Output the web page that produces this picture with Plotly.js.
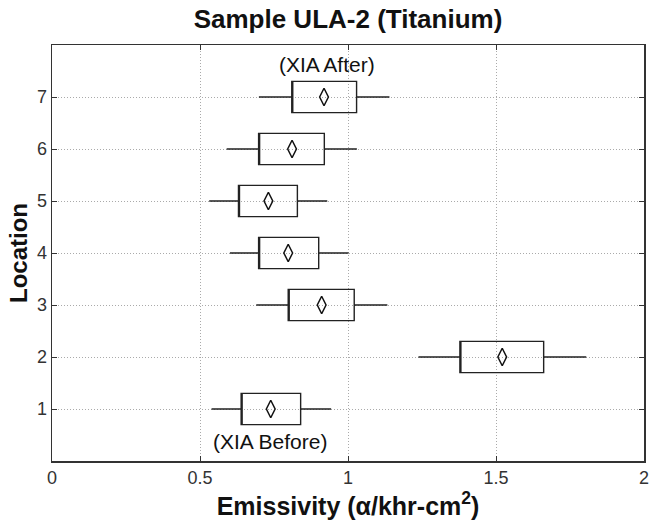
<!DOCTYPE html>
<html>
<head>
<meta charset="utf-8">
<script src="https://cdn.plot.ly/plotly-3.0.1.min.js"></script>
<style>html,body{margin:0;padding:0;background:#fff;}#chart{width:649px;height:524px;}</style>
</head>
<body>
<div id="chart"></div>
<script>
// Data
const locations = [1, 2, 3, 4, 5, 6, 7];
const lowerWhisker = [0.539, 1.238, 0.690, 0.601, 0.531, 0.590, 0.699];
const q1 = [0.639, 1.378, 0.798, 0.698, 0.630, 0.698, 0.810];
const means = [0.739, 1.521, 0.911, 0.798, 0.731, 0.811, 0.919];
const q3 = [0.840, 1.661, 1.021, 0.901, 0.829, 0.920, 1.029];
const upperWhisker = [0.943, 1.805, 1.133, 1.002, 0.930, 1.030, 1.140];
const tickLabelsY = ['1', '2', '3', '4', '5', '6', '7'];
const xTickVals = [0, 0.5, 1, 1.5, 2];
const xTickText = ['0', '0.5', '1', '1.5', '2'];

const boxTrace = {
  type: 'box',
  orientation: 'h',
  y: locations,
  q1: q1,
  median: q1,
  q3: q3,
  lowerfence: lowerWhisker,
  upperfence: upperWhisker,
  width: 0.6,
  whiskerwidth: 0,
  fillcolor: 'rgba(255,255,255,0)',
  line: {color: '#222', width: 1.4},
  hoverinfo: 'skip',
  showlegend: false
};

const meanTrace = {
  type: 'scatter',
  mode: 'markers',
  x: means,
  y: locations,
  marker: {symbol: 'diamond-tall-open', size: 12.5, color: '#111', line: {width: 1.5, color: '#111'}},
  showlegend: false,
  hoverinfo: 'skip'
};

const layout = {
  width: 649,
  height: 524,
  paper_bgcolor: '#fff',
  plot_bgcolor: '#fff',
  margin: {l: 52, r: 5, t: 45, b: 63},
  font: {family: 'Liberation Sans, Arial, sans-serif', color: '#222'},
  title: {
    text: '<b>Sample ULA-2 (Titanium)</b>',
    font: {size: 26, color: '#111'},
    xref: 'paper', x: 0.5, xanchor: 'center',
    yref: 'container', y: 0.963, yanchor: 'middle'
  },
  xaxis: {
    range: [0, 2],
    tickvals: xTickVals,
    ticktext: xTickText,
    ticklabeloverflow: 'allow',
    ticks: 'inside', ticklen: 5, tickcolor: '#333',
    mirror: 'ticks', showline: true, linecolor: '#333', linewidth: 1.5,
    showgrid: true, gridcolor: '#aaa', griddash: '1px,2px', gridwidth: 1,
    zeroline: false,
    tickfont: {size: 18, color: '#333'},
    title: {text: '<b>Emissivity (α/khr-cm<sup>2</sup>)</b>', font: {size: 25, color: '#111'}, standoff: 3}
  },
  yaxis: {
    range: [0, 8],
    tickvals: locations,
    ticktext: tickLabelsY,
    ticks: 'inside', ticklen: 5, tickcolor: '#333',
    mirror: 'ticks', showline: true, linecolor: '#333', linewidth: 1.5,
    showgrid: true, gridcolor: '#aaa', griddash: '1px,2px', gridwidth: 1,
    zeroline: false,
    tickfont: {size: 18, color: '#333'},
    title: {text: '<b>Location</b>', font: {size: 24, color: '#111'}, standoff: 2}
  },
  annotations: [
    {x: 0.93, y: 7.62, xref: 'x', yref: 'y', text: '(XIA After)', showarrow: false,
     font: {size: 21, color: '#111'}},
    {x: 0.738, y: 0.38, xref: 'x', yref: 'y', text: '(XIA Before)', showarrow: false,
     font: {size: 21, color: '#111'}}
  ]
};

Plotly.newPlot('chart', [boxTrace, meanTrace], layout, {displayModeBar: false, staticPlot: true});
</script>
</body>
</html>
